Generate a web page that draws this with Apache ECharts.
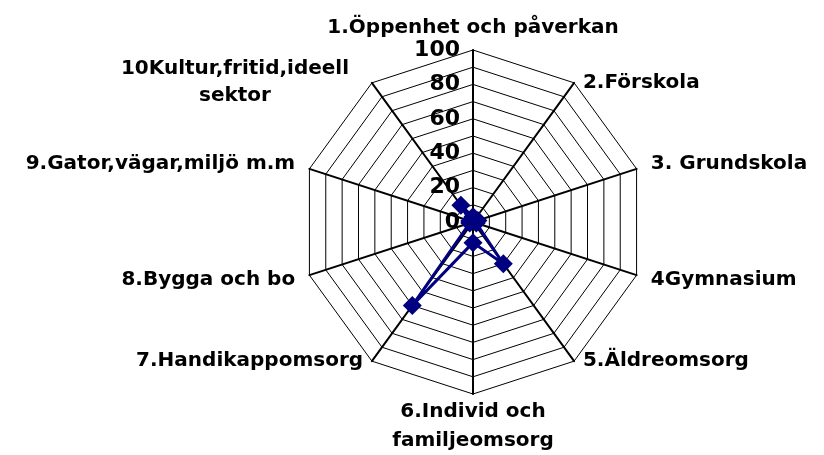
<!DOCTYPE html>
<html>
<head>
<meta charset="utf-8">
<script src="https://cdn.jsdelivr.net/npm/echarts@6/dist/echarts.min.js"></script>
<style>
    html, body { margin: 0; padding: 0; background: #fff; }
    #chart { width: 824px; height: 455px; }
</style>
</head>
<body>
<div id="chart"></div>
<script>
// kategorier (axlar, medurs från toppen) och värden
var categories = [
    "1.Öppenhet och påverkan",
    "2.Förskola",
    "3. Grundskola",
    "4Gymnasium",
    "5.Äldreomsorg",
    "6.Individ och\nfamiljeomsorg",
    "7.Handikappomsorg",
    "8.Bygga och bo",
    "9.Gator,vägar,miljö m.m",
    "10Kultur,fritid,ideell\nsektor"
];
var values = [3, 2, 3, 2, 30, 12, 60, 2, 2, 12];
var tickLabels = [0, 20, 40, 60, 80, 100];

(function () {
    var myChart = echarts.init(document.getElementById("chart"));

    // radar ritas moturs, så vänd ordningen (första axeln kvar överst)
    var order = [0, 9, 8, 7, 6, 5, 4, 3, 2, 1];

    var indicators = order.map(function (i) {
        var ind = { name: categories[i], min: 0, max: 100 };
        if (i === 0) {
            // skalan visas bara på första axeln
            ind.axisLabel = { show: true };
        }
        return ind;
    });
    var seriesValues = order.map(function (i) { return values[i]; });

    var font = "DejaVu Sans, Verdana, sans-serif";
    function txt(extra) {
        var s = { fontFamily: font, fontWeight: "bold", fontSize: 20, color: "#000" };
        for (var k in extra) s[k] = extra[k];
        return s;
    }

    var option = {
        animation: false,
        backgroundColor: "#fff",
        radar: {
            center: [473, 222],
            radius: 172,
            shape: "polygon",
            startAngle: 90,
            splitNumber: 10,
            indicator: indicators,
            nameGap: 15,
            axisName: {
                color: "#000",
                fontFamily: font,
                fontWeight: "bold",
                fontSize: 20,
                lineHeight: 24,
                formatter: function (name) {
                    var k = categories.indexOf(name);
                    var parts = name.split("\n");
                    if (k === 0) {
                        return "{t|" + name + "}";
                    }
                    if (k === 9) {
                        return "\n{k|" + parts[0] + "}\n{k|" + parts[1] + "}";
                    }
                    if (k === 5) {
                        return "{d1|" + parts[0] + "}\n{d2|" + parts[1] + "}";
                    }
                    if (k === 1) {
                        return "\n" + name;
                    }
                    if (k === 4 || k === 6) {
                        return name + "\n";
                    }
                    return name;
                },
                rich: {
                    t: txt({ lineHeight: 14 }),
                    k: txt({ lineHeight: 27, align: "center", padding: [0, 14, 0, 0] }),
                    d1: txt({ lineHeight: 6, align: "center" }),
                    d2: txt({ lineHeight: 52, align: "center" })
                }
            },
            axisLine: { lineStyle: { color: "#000", width: 2 } },
            splitLine: { lineStyle: { color: "#000", width: 1 } },
            splitArea: { show: false },
            axisTick: { show: false },
            axisLabel: {
                show: false,
                color: "#000",
                fontFamily: font,
                fontWeight: "bold",
                fontSize: 22,
                margin: 13,
                formatter: function (v) {
                    return tickLabels.indexOf(v) >= 0 ? String(v) : "";
                }
            }
        },
        series: [{
            type: "radar",
            symbol: "diamond",
            symbolSize: 19,
            lineStyle: { color: "#000080", width: 3 },
            itemStyle: { color: "#000080" },
            data: [{ value: seriesValues }]
        }]
    };
    myChart.setOption(option);
})();
</script>
</body>
</html>
